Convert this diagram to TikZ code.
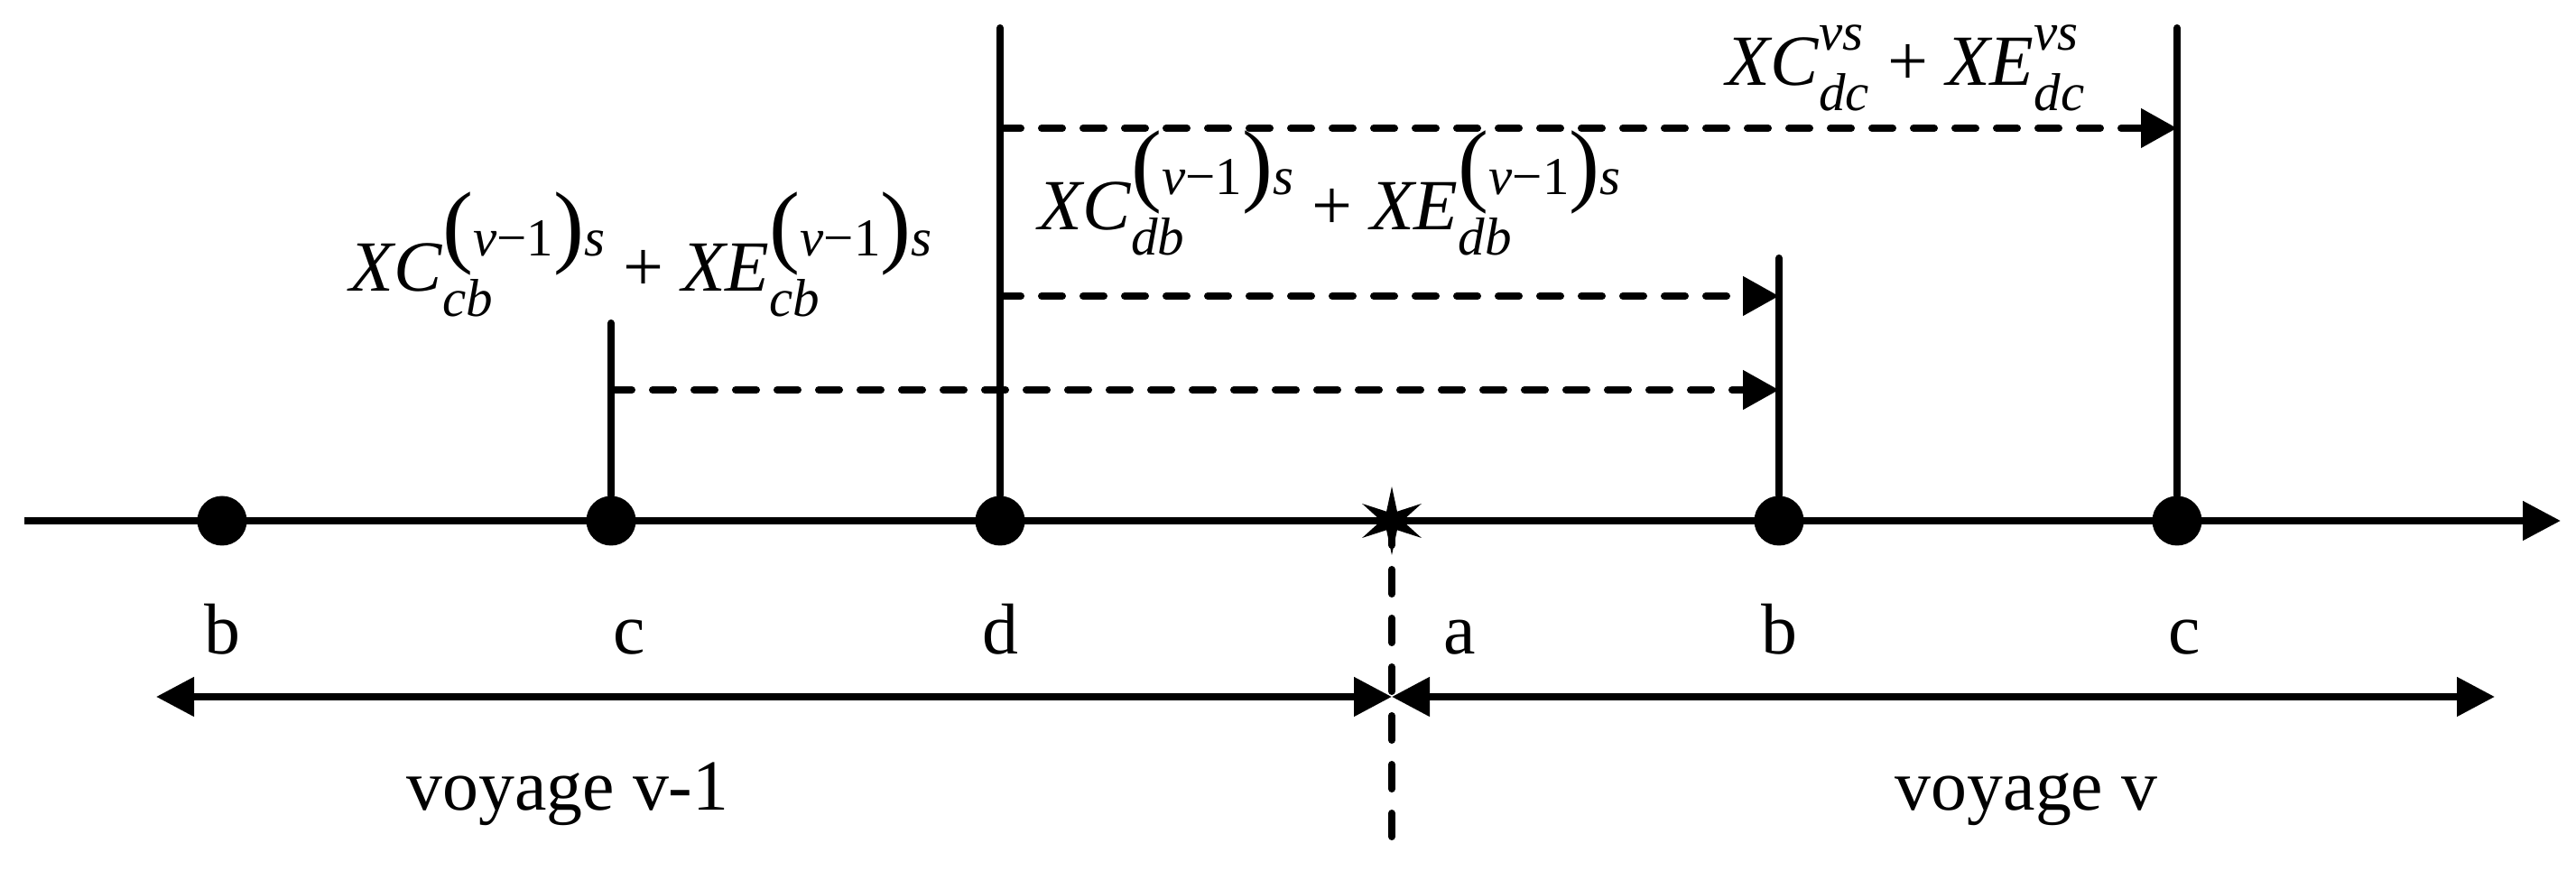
\documentclass[tikz,border=0pt]{standalone}
\usepackage{fontspec}
\setmainfont{Liberation Serif}
\usetikzlibrary{arrows.meta,shapes.geometric}
\newsavebox\mysupbox
\newsavebox\mysubbox
\newlength\mysswd
\newcommand\mainsz{\fontsize{22.7}{27}\selectfont}
\newcommand\scrsz{\fontsize{16.8}{18}\selectfont}
\newcommand\parsz{\fontsize{29}{30}\selectfont}
\newcommand\supsub[2]{%
  \sbox\mysupbox{\scrsz #1}\sbox\mysubbox{\scrsz #2}%
  \setlength\mysswd{\wd\mysupbox}%
  \ifdim\wd\mysubbox>\mysswd \setlength\mysswd{\wd\mysubbox}\fi
  \hbox to \mysswd{\rlap{\raisebox{0.5em}{\usebox\mysupbox}}\rlap{\raisebox{-0.35em}{\usebox\mysubbox}}\hfil}}
\newcommand\vms{{\parsz(}\textit{v}−1{\parsz)}\textit{s}}
\newcommand\XCE[2]{\textit{XC}\supsub{#1}{\textit{#2}}~+~\textit{XE}\supsub{#1}{\textit{#2}}}
\begin{document}
\begin{tikzpicture}[
  every node/.style={font=\mainsz},
  dot/.style={circle,fill=black,inner sep=0pt,minimum size=0.55cm},
  starnode/.style={star,star points=6,star point ratio=3.2,fill=black,inner sep=0pt,minimum size=0.76cm},
  solidln/.style={line width=0.8mm,line cap=round},
  axisln/.style={line width=0.8mm,-{Triangle[length=0.42cm,width=0.42cm]}},
  dimarrow/.style={line width=0.8mm,{Triangle[length=0.42cm,width=0.42cm]}-{Triangle[length=0.42cm,width=0.42cm]}},
  dasharrow/.style={line width=0.8mm,line cap=round,dash pattern=on 0.23cm off 0.23cm,-{Triangle[length=0.40cm,width=0.42cm]}},
  vdash/.style={line width=0.8mm,line cap=round,dash pattern=on 0.27cm off 0.27cm},
  lbl/.style={anchor=base,inner sep=0pt},
  formula/.style={anchor=base west,inner sep=0pt}
]
\useasboundingbox (0,0) rectangle (28.54,9.65);
% axis
\coordinate (axL) at (0.27,3.88);
\coordinate (axR) at (28.37,3.88);
\draw[axisln] (axL) -- (axR);
% points on the axis
\node[dot] (b1) at (2.46,3.88) {};
\node[dot] (c1) at (6.77,3.88) {};
\node[dot] (d1) at (11.08,3.88) {};
\node[starnode] (st) at (15.42,3.88) {};
\node[dot] (b2) at (19.71,3.88) {};
\node[dot] (c2) at (24.12,3.88) {};
% vertical bars
\coordinate (c1top) at (6.77,6.07);
\coordinate (d1top) at (11.08,9.34);
\coordinate (b2top) at (19.71,6.79);
\coordinate (c2top) at (24.12,9.34);
\draw[solidln] (c1) -- (c1top);
\draw[solidln] (d1) -- (d1top);
\draw[solidln] (b2) -- (b2top);
\draw[solidln] (c2) -- (c2top);
% dashed arrows
\coordinate (r1s) at (11.08,8.23);
\coordinate (r1e) at (24.12,8.23);
\coordinate (r2s) at (11.08,6.37);
\coordinate (r2e) at (19.71,6.37);
\coordinate (r3s) at (6.77,5.33);
\coordinate (r3e) at (19.71,5.33);
\draw[dasharrow] (r1s) -- (r1e);
\draw[dasharrow] (r2s) -- (r2e);
\draw[dasharrow] (r3s) -- (r3e);
% formulas
\node[formula] (fcb) at (3.87,6.42) {\XCE{\vms}{cb}};
\node[formula] (fdb) at (11.50,7.10) {\XCE{\vms}{db}};
\node[formula] (fdc) at (19.12,8.70) {\XCE{\textit{vs}}{dc}};
% divider
\coordinate (vend) at (15.42,0.38);
\draw[vdash] (st.center) -- (vend);
% voyage arrows
\coordinate (bl) at (1.73,1.93);
\coordinate (bm) at (15.42,1.93);
\coordinate (br) at (27.64,1.93);
\draw[dimarrow] (bl) -- (bm);
\draw[dimarrow] (bm) -- (br);
% letters
\node[lbl] (lb1) at (2.46,2.40) {b};
\node[lbl] (lc1) at (6.97,2.40) {c};
\node[lbl] (ld1) at (11.08,2.40) {d};
\node[lbl] (la2) at (16.17,2.40) {a};
\node[lbl] (lb2) at (19.71,2.40) {b};
\node[lbl] (lc2) at (24.20,2.40) {c};
\node[lbl] (v1) at (6.29,0.67) {voyage v-1};
\node[lbl] (v2) at (22.45,0.67) {voyage v};
\end{tikzpicture}
\end{document}
